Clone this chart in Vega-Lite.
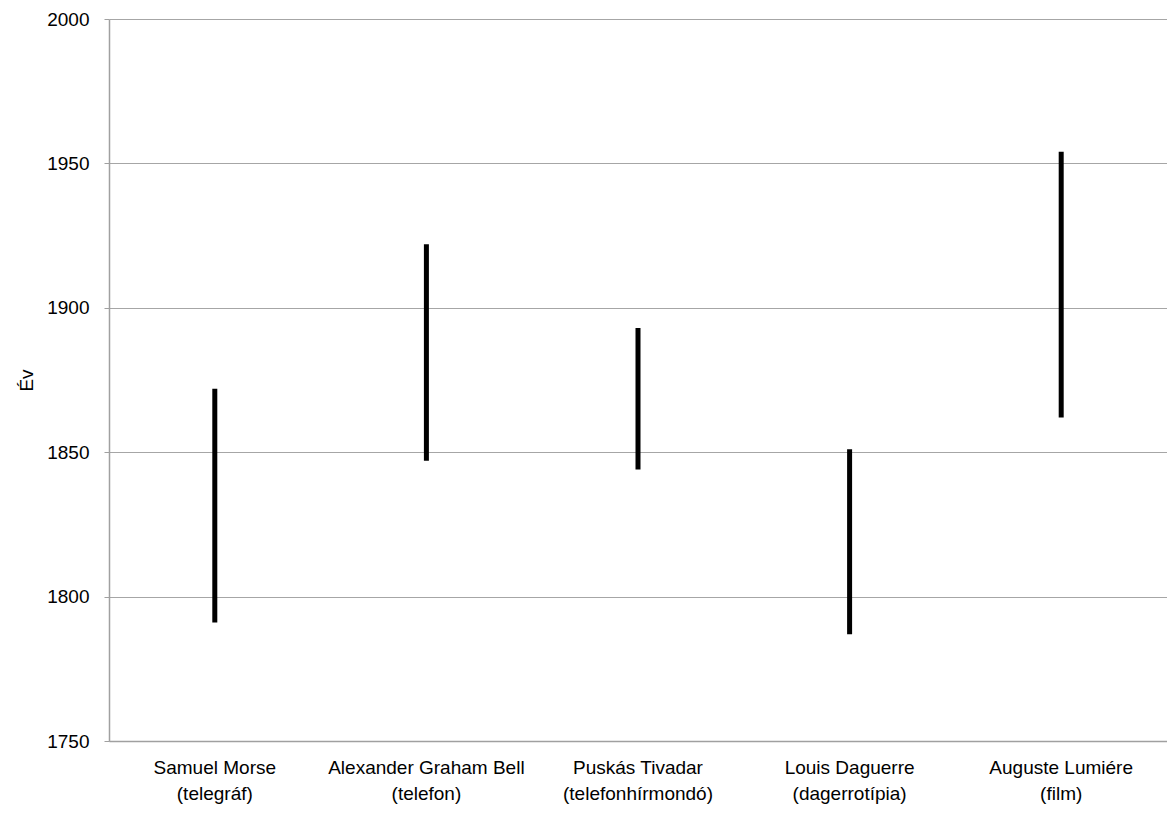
{
  "$schema": "https://vega.github.io/schema/vega-lite/v6.json",
  "autosize": "none",
  "width": 1058,
  "height": 722,
  "padding": {"left": 109, "top": 19, "right": 0, "bottom": 73},
  "background": "white",
  "config": {"view": {"stroke": null}, "font": "Liberation Sans"},
  "data": {"values": [
    {"name": "Samuel Morse|(telegráf)", "start": 1791, "end": 1872},
    {"name": "Alexander Graham Bell|(telefon)", "start": 1847, "end": 1922},
    {"name": "Puskás Tivadar|(telefonhírmondó)", "start": 1844, "end": 1893},
    {"name": "Louis Daguerre|(dagerrotípia)", "start": 1787, "end": 1851},
    {"name": "Auguste Lumiére|(film)", "start": 1862, "end": 1954}
  ]},
  "mark": {"type": "rule", "strokeWidth": 5, "color": "black", "strokeCap": "butt"},
  "encoding": {
    "x": {"field": "name", "type": "nominal", "sort": null,
      "axis": {"title": null, "labelAngle": 0, "ticks": false, "domainColor": "#a0a0a0", "domainWidth": 1.5,
        "labelExpr": "split(datum.value, '|')", "labelFont": "Liberation Sans", "labelFontSize": 19,
        "labelLimit": 0, "labelOverlap": false,
        "labelColor": "black", "labelPadding": 17, "labelLineHeight": 26, "labelBaseline": "top"}},
    "y": {"field": "start", "type": "quantitative", "scale": {"domain": [1750, 2000], "nice": false, "zero": false},
      "axis": {"title": "Év", "titleFont": "Liberation Sans", "titleFontSize": 19, "titleFontWeight": "normal",
        "titleColor": "black", "titlePadding": 10, "values": [1750, 1800, 1850, 1900, 1950, 2000], "format": "d",
        "labelFont": "Liberation Sans", "labelFontSize": 19, "labelColor": "black", "labelPadding": 15,
        "tickColor": "#a0a0a0", "tickSize": 5, "domainColor": "#a0a0a0", "domainWidth": 1.5,
        "gridColor": "#a6a6a6", "grid": true}},
    "y2": {"field": "end"}
  }
}
